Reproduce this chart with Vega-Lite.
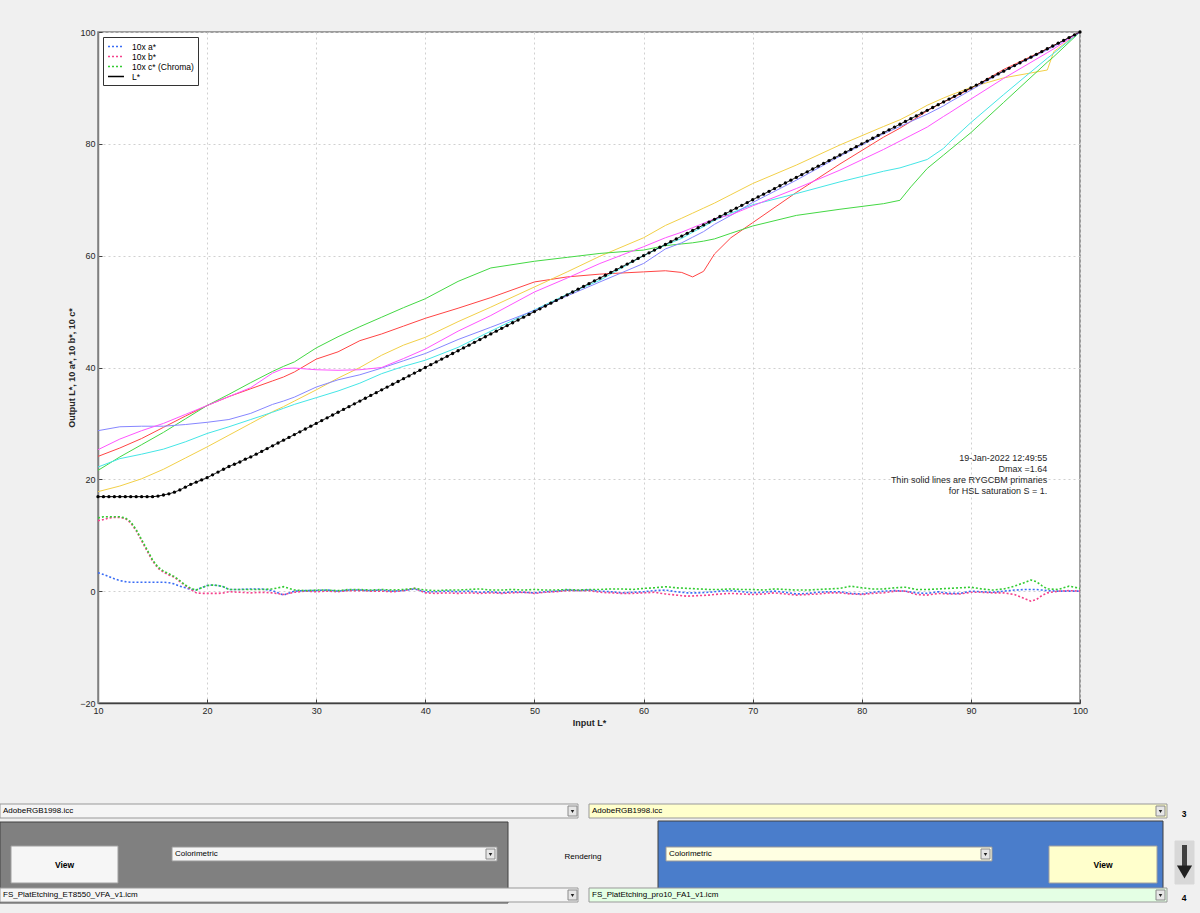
{
  "$schema": "https://vega.github.io/schema/vega-lite/v6.json",
  "width": 982,
  "height": 671,
  "autosize": {"type": "none"},
  "padding": {"left": 98, "top": 32, "right": 120, "bottom": 210},
  "background": "#f0f0f0",
  "config": {
    "font": "Liberation Sans",
    "view": {"fill": "white", "stroke": "#808080", "strokeWidth": 1.5},
    "legend": {
      "orient": "top-left", "offset": 5, "padding": 4,
      "strokeColor": "#333333", "fillColor": "white",
      "symbolType": "M-1,0L2.55,0", "symbolSize": 81, "symbolStrokeWidth": 1.5, "symbolFillColor": "transparent",
      "labelFont": "Liberation Sans", "labelFontSize": 8.5, "labelColor": "#000000",
      "labelOffset": 14, "rowPadding": 0, "labelLimit": 200
    }
  },
  "datasets": {
    "prim": [
      {"x":10,"R":24.1,"Y":17.8,"G":21.6,"C":22.2,"B":28.7,"M":25.3},
      {"x":12,"R":25.6,"Y":18.8,"G":24.0,"C":23.7,"B":29.4,"M":27.2},
      {"x":14,"R":27.3,"Y":20.1,"G":26.2,"C":24.5,"B":29.5,"M":28.7},
      {"x":16,"R":29.3,"Y":21.8,"G":28.4,"C":25.4,"B":29.5,"M":30.0},
      {"x":18,"R":31.3,"Y":23.8,"G":30.8,"C":26.7,"B":29.8,"M":31.6},
      {"x":20,"R":33.2,"Y":25.8,"G":33.2,"C":28.2,"B":30.2,"M":33.2},
      {"x":22,"R":34.8,"Y":27.9,"G":35.2,"C":29.4,"B":30.7,"M":34.8},
      {"x":24,"R":36.2,"Y":30.0,"G":37.3,"C":30.7,"B":31.8,"M":36.4},
      {"x":26,"R":37.6,"Y":32.1,"G":39.3,"C":32.0,"B":33.4,"M":39.0},
      {"x":27,"R":38.3,"Y":33.0,"G":40.2,"C":32.7,"B":34.0,"M":39.8},
      {"x":28,"R":39.2,"Y":34.0,"G":41.0,"C":33.4,"B":34.7,"M":39.9},
      {"x":30,"R":41.5,"Y":36.0,"G":43.5,"C":34.6,"B":36.5,"M":39.6},
      {"x":32,"R":42.8,"Y":38.1,"G":45.5,"C":35.8,"B":37.8,"M":39.5},
      {"x":34,"R":44.8,"Y":40.0,"G":47.3,"C":37.2,"B":38.7,"M":39.6},
      {"x":36,"R":46.0,"Y":42.2,"G":49.0,"C":38.9,"B":39.9,"M":40.0},
      {"x":38,"R":47.4,"Y":44.0,"G":50.7,"C":40.2,"B":41.2,"M":41.6},
      {"x":40,"R":48.8,"Y":45.4,"G":52.3,"C":41.3,"B":42.5,"M":43.3},
      {"x":43,"R":50.6,"Y":48.2,"G":55.4,"C":43.6,"B":45.0,"M":46.5},
      {"x":46,"R":52.5,"Y":50.8,"G":57.8,"C":46.5,"B":47.2,"M":49.3},
      {"x":50,"R":55.3,"Y":54.4,"G":59.0,"C":50.3,"B":50.2,"M":53.5},
      {"x":53,"R":56.2,"Y":57.1,"G":59.7,"C":53.1,"B":52.8,"M":56.0},
      {"x":56,"R":56.7,"Y":59.9,"G":60.4,"C":55.6,"B":55.3,"M":58.6},
      {"x":60,"R":57.1,"Y":63.2,"G":61.0,"C":60.0,"B":58.6,"M":61.6},
      {"x":62,"R":57.3,"Y":65.4,"G":61.8,"C":61.9,"B":61.2,"M":63.2},
      {"x":63.5,"R":57.0,"Y":66.7,"G":62.1,"C":63.1,"B":62.3,"M":64.2},
      {"x":64.5,"R":56.2,"Y":67.6,"G":62.3,"C":64.2,"B":63.3,"M":65.0},
      {"x":65.5,"R":57.2,"Y":68.5,"G":62.6,"C":65.2,"B":64.3,"M":65.8},
      {"x":66.5,"R":60.3,"Y":69.4,"G":63.0,"C":66.3,"B":65.6,"M":66.6},
      {"x":68,"R":63.2,"Y":70.9,"G":64.0,"C":67.6,"B":67.2,"M":67.3},
      {"x":70,"R":65.9,"Y":72.9,"G":65.3,"C":69.1,"B":69.5,"M":68.9},
      {"x":74,"R":71.3,"Y":76.2,"G":67.2,"C":71.1,"B":73.5,"M":72.0},
      {"x":78,"R":76.4,"Y":79.8,"G":68.3,"C":73.2,"B":77.8,"M":75.3},
      {"x":82,"R":81.2,"Y":83.1,"G":69.3,"C":75.1,"B":81.8,"M":79.0},
      {"x":83.5,"R":82.8,"Y":84.3,"G":69.9,"C":75.7,"B":83.1,"M":80.5},
      {"x":84.5,"R":84.0,"Y":85.3,"G":72.3,"C":76.3,"B":84.0,"M":81.5},
      {"x":86,"R":85.9,"Y":86.9,"G":75.6,"C":77.2,"B":85.3,"M":83.0},
      {"x":87.5,"R":87.5,"Y":88.2,"G":78.0,"C":79.2,"B":86.8,"M":84.9},
      {"x":88,"R":87.9,"Y":88.6,"G":78.8,"C":80.2,"B":87.4,"M":85.5},
      {"x":90,"R":89.9,"Y":90.1,"G":82.0,"C":83.8,"B":89.6,"M":88.0},
      {"x":93,"R":93.3,"Y":91.8,"G":87.4,"C":88.8,"B":93.0,"M":91.7},
      {"x":97,"R":97.0,"Y":93.2,"G":94.6,"C":95.3,"B":96.8,"M":96.3},
      {"x":97.6,"R":97.6,"Y":96.5,"G":95.6,"C":96.2,"B":97.4,"M":97.0},
      {"x":100,"R":100,"Y":100,"G":100,"C":100,"B":100,"M":100}
    ],
    "lab": [
      {"x":10,"a":3.3,"b":12.6,"c":13.1},{"x":10.5,"a":3.0,"b":12.8,"c":13.3},{"x":11,"a":2.6,"b":13.1,"c":13.3},{"x":11.5,"a":2.2,"b":13.2,"c":13.3},
      {"x":12,"a":1.9,"b":13.2,"c":13.3},{"x":12.5,"a":1.7,"b":13.0,"c":13.1},{"x":13,"a":1.6,"b":12.2,"c":12.4},{"x":13.5,"a":1.6,"b":10.8,"c":11.0},
      {"x":14,"a":1.6,"b":9.0,"c":9.2},{"x":14.5,"a":1.6,"b":7.2,"c":7.4},{"x":15,"a":1.6,"b":5.4,"c":5.6},{"x":15.5,"a":1.6,"b":4.1,"c":4.3},
      {"x":16,"a":1.6,"b":3.4,"c":3.6},{"x":16.5,"a":1.5,"b":2.9,"c":3.1},{"x":17,"a":1.3,"b":2.5,"c":2.6},{"x":17.5,"a":0.9,"b":1.7,"c":1.9},
      {"x":18,"a":0.6,"b":1.0,"c":1.1},{"x":18.5,"a":0.3,"b":0.3,"c":0.5},{"x":19,"a":0.2,"b":-0.3,"c":0.2},{"x":19.5,"a":0.6,"b":-0.4,"c":0.6},
      {"x":20,"a":1.0,"b":-0.4,"c":1.0},{"x":20.5,"a":1.1,"b":-0.4,"c":1.1},{"x":21,"a":1.0,"b":-0.4,"c":1.0},{"x":21.5,"a":0.8,"b":-0.3,"c":0.8},
      {"x":22,"a":0.3,"b":-0.1,"c":0.3},{"x":23,"a":0.3,"b":-0.2,"c":0.3},{"x":24,"a":0.4,"b":-0.3,"c":0.3},{"x":25,"a":0.4,"b":-0.2,"c":0.3},
      {"x":26,"a":0.1,"b":-0.3,"c":0.4},{"x":27,"a":-0.7,"b":-0.6,"c":0.8},{"x":28,"a":0.0,"b":-0.2,"c":0.2},{"x":29,"a":0.1,"b":0.0,"c":0.1},
      {"x":30,"a":0.1,"b":-0.1,"c":0.2},{"x":31,"a":0.2,"b":0.0,"c":0.2},{"x":32,"a":0.0,"b":-0.1,"c":0.1},{"x":33,"a":0.2,"b":0.1,"c":0.3},
      {"x":34,"a":0.2,"b":0.1,"c":0.3},{"x":35,"a":0.1,"b":0.0,"c":0.2},{"x":36,"a":0.2,"b":0.0,"c":0.3},{"x":37,"a":0.0,"b":-0.1,"c":0.2},
      {"x":38,"a":0.1,"b":0.1,"c":0.3},{"x":39,"a":0.4,"b":0.5,"c":0.5},{"x":40,"a":-0.1,"b":-0.3,"c":0.2},{"x":41,"a":-0.1,"b":-0.4,"c":0.1},
      {"x":42,"a":0.0,"b":-0.3,"c":0.2},{"x":43,"a":-0.1,"b":-0.4,"c":0.2},{"x":44,"a":0.0,"b":-0.3,"c":0.3},{"x":45,"a":-0.2,"b":-0.4,"c":0.4},
      {"x":46,"a":-0.1,"b":-0.3,"c":0.2},{"x":47,"a":-0.3,"b":-0.4,"c":0.2},{"x":48,"a":-0.1,"b":-0.3,"c":0.3},{"x":49,"a":-0.2,"b":-0.2,"c":0.2},
      {"x":50,"a":-0.3,"b":-0.4,"c":0.3},{"x":51,"a":-0.1,"b":-0.2,"c":0.2},{"x":52,"a":0.0,"b":-0.1,"c":0.2},{"x":53,"a":0.2,"b":0.1,"c":0.3},
      {"x":54,"a":0.1,"b":0.1,"c":0.2},{"x":55,"a":0.2,"b":0.1,"c":0.3},{"x":56,"a":0.0,"b":-0.2,"c":0.3},{"x":57,"a":-0.1,"b":-0.3,"c":0.4},
      {"x":58,"a":-0.3,"b":-0.4,"c":0.4},{"x":59,"a":-0.2,"b":-0.4,"c":0.3},{"x":60,"a":-0.1,"b":-0.3,"c":0.5},{"x":61,"a":0.1,"b":-0.2,"c":0.6},
      {"x":62,"a":0.2,"b":-0.5,"c":0.8},{"x":63,"a":-0.1,"b":-0.7,"c":0.6},{"x":64,"a":-0.3,"b":-0.9,"c":0.5},{"x":65,"a":-0.3,"b":-0.8,"c":0.4},
      {"x":66,"a":-0.2,"b":-0.7,"c":0.3},{"x":67,"a":0.0,"b":-0.5,"c":0.3},{"x":68,"a":0.1,"b":-0.4,"c":0.4},{"x":69,"a":-0.1,"b":-0.5,"c":0.3},
      {"x":70,"a":-0.3,"b":-0.6,"c":0.3},{"x":71,"a":-0.2,"b":-0.5,"c":0.2},{"x":72,"a":0.0,"b":-0.3,"c":0.4},{"x":73,"a":-0.2,"b":-0.5,"c":0.3},
      {"x":74,"a":-0.5,"b":-0.7,"c":0.2},{"x":75,"a":-0.4,"b":-0.6,"c":0.2},{"x":76,"a":-0.2,"b":-0.5,"c":0.3},{"x":77,"a":-0.1,"b":-0.3,"c":0.4},
      {"x":78,"a":-0.1,"b":-0.3,"c":0.5},{"x":79,"a":-0.4,"b":-0.5,"c":0.9},{"x":80,"a":-0.5,"b":-0.6,"c":0.6},{"x":81,"a":-0.2,"b":-0.4,"c":0.4},
      {"x":82,"a":0.0,"b":-0.3,"c":0.4},{"x":83,"a":0.1,"b":0.0,"c":0.6},{"x":84,"a":0.0,"b":0.0,"c":0.7},{"x":85,"a":-0.3,"b":-0.6,"c":0.3},
      {"x":86,"a":-0.4,"b":-0.7,"c":0.3},{"x":87,"a":-0.1,"b":-0.4,"c":0.4},{"x":88,"a":-0.4,"b":-0.5,"c":0.5},{"x":89,"a":-0.4,"b":-0.5,"c":0.6},
      {"x":90,"a":0.0,"b":-0.2,"c":0.7},{"x":91,"a":-0.1,"b":-0.2,"c":0.4},{"x":92,"a":-0.2,"b":-0.3,"c":0.2},{"x":93,"a":0.0,"b":-0.3,"c":0.4},
      {"x":94,"a":0.2,"b":-0.6,"c":0.9},{"x":95,"a":0.3,"b":-1.4,"c":1.6},{"x":95.5,"a":0.3,"b":-1.8,"c":2.0},{"x":96,"a":0.3,"b":-1.5,"c":1.7},
      {"x":96.5,"a":0.2,"b":-0.8,"c":1.0},{"x":97,"a":0.1,"b":-0.3,"c":0.4},{"x":98,"a":0.0,"b":0.0,"c":0.3},{"x":99,"a":0.0,"b":0.1,"c":0.9},
      {"x":100,"a":0.0,"b":0.0,"c":0.5}
    ],
    "lum": [
      {"x":10,"L":16.9},{"x":10.5,"L":16.9},{"x":11,"L":16.9},{"x":11.5,"L":16.9},{"x":12,"L":16.9},{"x":12.5,"L":16.9},{"x":13,"L":16.9},{"x":13.5,"L":16.9},
      {"x":14,"L":16.9},{"x":14.5,"L":16.9},{"x":15,"L":16.9},{"x":15.5,"L":17.0},{"x":16,"L":17.2},{"x":16.5,"L":17.4},{"x":17,"L":17.7},{"x":17.5,"L":18.1},
      {"x":18,"L":18.6},{"x":18.5,"L":19.1},{"x":19,"L":19.5},{"x":19.5,"L":19.9},{"x":20,"L":20.3},{"x":20.5,"L":20.8},{"x":21,"L":21.3},{"x":21.5,"L":21.8},
      {"x":22,"L":22.3},{"x":22.5,"L":22.7},{"x":23,"L":23.1},{"x":23.5,"L":23.6},{"x":24,"L":24},{"x":24.5,"L":24.5},{"x":25,"L":25},{"x":25.5,"L":25.5},
      {"x":26,"L":26},{"x":26.5,"L":26.5},{"x":27,"L":27},{"x":27.5,"L":27.5},{"x":28,"L":28},{"x":28.5,"L":28.5},{"x":29,"L":29},{"x":29.5,"L":29.5},
      {"x":30,"L":30},{"x":30.5,"L":30.5},{"x":31,"L":31},{"x":31.5,"L":31.5},{"x":32,"L":32},{"x":32.5,"L":32.5},{"x":33,"L":33},{"x":33.5,"L":33.5},
      {"x":34,"L":34},{"x":34.5,"L":34.5},{"x":35,"L":35},{"x":35.5,"L":35.5},{"x":36,"L":36},{"x":36.5,"L":36.5},{"x":37,"L":37},{"x":37.5,"L":37.5},
      {"x":38,"L":38},{"x":38.5,"L":38.5},{"x":39,"L":39},{"x":39.5,"L":39.5},{"x":40,"L":40},{"x":40.5,"L":40.5},{"x":41,"L":41},{"x":41.5,"L":41.5},
      {"x":42,"L":42},{"x":42.5,"L":42.5},{"x":43,"L":43},{"x":43.5,"L":43.5},{"x":44,"L":44},{"x":44.5,"L":44.5},{"x":45,"L":45},{"x":45.5,"L":45.5},
      {"x":46,"L":46},{"x":46.5,"L":46.5},{"x":47,"L":47},{"x":47.5,"L":47.5},{"x":48,"L":48},{"x":48.5,"L":48.5},{"x":49,"L":49},{"x":49.5,"L":49.5},
      {"x":50,"L":50},{"x":50.5,"L":50.5},{"x":51,"L":51},{"x":51.5,"L":51.5},{"x":52,"L":52},{"x":52.5,"L":52.5},{"x":53,"L":53},{"x":53.5,"L":53.5},
      {"x":54,"L":54},{"x":54.5,"L":54.5},{"x":55,"L":55},{"x":55.5,"L":55.5},{"x":56,"L":56},{"x":56.5,"L":56.5},{"x":57,"L":57},{"x":57.5,"L":57.5},
      {"x":58,"L":58},{"x":58.5,"L":58.5},{"x":59,"L":59},{"x":59.5,"L":59.5},{"x":60,"L":60},{"x":60.5,"L":60.5},{"x":61,"L":61},{"x":61.5,"L":61.5},
      {"x":62,"L":62},{"x":62.5,"L":62.5},{"x":63,"L":63},{"x":63.5,"L":63.5},{"x":64,"L":64},{"x":64.5,"L":64.5},{"x":65,"L":65},{"x":65.5,"L":65.5},
      {"x":66,"L":66},{"x":66.5,"L":66.5},{"x":67,"L":67},{"x":67.5,"L":67.5},{"x":68,"L":68},{"x":68.5,"L":68.5},{"x":69,"L":69},{"x":69.5,"L":69.5},
      {"x":70,"L":70},{"x":70.5,"L":70.5},{"x":71,"L":71},{"x":71.5,"L":71.5},{"x":72,"L":72},{"x":72.5,"L":72.5},{"x":73,"L":73},{"x":73.5,"L":73.5},
      {"x":74,"L":74},{"x":74.5,"L":74.5},{"x":75,"L":75},{"x":75.5,"L":75.5},{"x":76,"L":76},{"x":76.5,"L":76.5},{"x":77,"L":77},{"x":77.5,"L":77.5},
      {"x":78,"L":78},{"x":78.5,"L":78.5},{"x":79,"L":79},{"x":79.5,"L":79.5},{"x":80,"L":80},{"x":80.5,"L":80.5},{"x":81,"L":81},{"x":81.5,"L":81.5},
      {"x":82,"L":82},{"x":82.5,"L":82.5},{"x":83,"L":83},{"x":83.5,"L":83.5},{"x":84,"L":84},{"x":84.5,"L":84.5},{"x":85,"L":85},{"x":85.5,"L":85.5},
      {"x":86,"L":86},{"x":86.5,"L":86.5},{"x":87,"L":87},{"x":87.5,"L":87.5},{"x":88,"L":88},{"x":88.5,"L":88.5},{"x":89,"L":89},{"x":89.5,"L":89.5},
      {"x":90,"L":90},{"x":90.5,"L":90.5},{"x":91,"L":91},{"x":91.5,"L":91.5},{"x":92,"L":92},{"x":92.5,"L":92.5},{"x":93,"L":93},{"x":93.5,"L":93.5},
      {"x":94,"L":94},{"x":94.5,"L":94.5},{"x":95,"L":95},{"x":95.5,"L":95.5},{"x":96,"L":96},{"x":96.5,"L":96.5},{"x":97,"L":97},{"x":97.5,"L":97.5},
      {"x":98,"L":98},{"x":98.5,"L":98.5},{"x":99,"L":99},{"x":99.5,"L":99.5},{"x":100,"L":100}
    ],
    "ui": [
      {"x":0,"x2":508,"y":822,"y2":903,"k":"pg"},
      {"x":658,"x2":1163,"y":821,"y2":889,"k":"pb"},
      {"x":0,"x2":578,"y":804,"y2":818,"k":"cw"},
      {"x":589,"x2":1167,"y":804,"y2":818,"k":"cy"},
      {"x":0,"x2":578,"y":888,"y2":902,"k":"cw"},
      {"x":589,"x2":1167,"y":888,"y2":902,"k":"cg"},
      {"x":172,"x2":497,"y":847,"y2":861,"k":"cw"},
      {"x":666,"x2":992,"y":847,"y2":861,"k":"cl"},
      {"x":11,"x2":118,"y":846,"y2":883,"k":"bw"},
      {"x":1049,"x2":1157,"y":846,"y2":883,"k":"by"},
      {"x":1175,"x2":1194,"y":841,"y2":884,"k":"ab"},
      {"x":568,"x2":577,"y":806,"y2":816,"k":"db"},
      {"x":1156,"x2":1165,"y":806,"y2":816,"k":"db"},
      {"x":568,"x2":577,"y":890,"y2":900,"k":"db"},
      {"x":1156,"x2":1165,"y":890,"y2":900,"k":"db"},
      {"x":486,"x2":495,"y":849,"y2":859,"k":"db"},
      {"x":981,"x2":990,"y":849,"y2":859,"k":"db"}
    ],
    "tri": [
      {"x":572.5,"y":811.5,"k":"s"},{"x":1160.5,"y":811.5,"k":"s"},{"x":572.5,"y":895.5,"k":"s"},
      {"x":1160.5,"y":895.5,"k":"s"},{"x":490.5,"y":854.5,"k":"s"},{"x":985.5,"y":854.5,"k":"s"},
      {"x":1184.5,"y":872,"k":"L"}
    ],
    "uitext": [
      {"x":3,"y":811,"t":"AdobeRGB1998.icc","a":"l"},
      {"x":592,"y":811,"t":"AdobeRGB1998.icc","a":"l"},
      {"x":175,"y":854,"t":"Colorimetric","a":"l"},
      {"x":669,"y":854,"t":"Colorimetric","a":"l"},
      {"x":3,"y":895,"t":"FS_PlatEtching_ET8550_VFA_v1.icm","a":"l"},
      {"x":592,"y":895,"t":"FS_PlatEtching_pro10_FA1_v1.icm","a":"l"},
      {"x":583,"y":857,"t":"Rendering","a":"c"},
      {"x":64.5,"y":865,"t":"View","a":"b"},
      {"x":1103,"y":865,"t":"View","a":"b"},
      {"x":1184,"y":814,"t":"3","a":"b"},
      {"x":1184,"y":898,"t":"4","a":"b"}
    ]
  },
  "layer": [
    {
      "layer": [
        {
          "data": {"name": "prim"},
          "transform": [{"fold": ["R","Y","G","C","B","M"], "as": ["p","v"]}],
          "mark": {"type": "line", "strokeWidth": 1},
          "encoding": {
            "x": {"field": "x", "type": "quantitative", "title": "Input L*",
                  "scale": {"domain": [10,100], "nice": false, "zero": false},
                  "axis": {"values": [10,20,30,40,50,60,70,80,90,100], "format": "d", "grid": true,
                           "gridColor": "#d0d0d0", "gridDash": [2,3], "tickSize": -4, "tickColor": "#404040",
                           "domainColor": "#404040", "domainWidth": 1.5, "labelPadding": 7, "labelFontSize": 9,
                           "labelColor": "#262626", "labelFont": "Liberation Sans", "labelFlush": false,
                           "titleFont": "Liberation Sans", "titleFontSize": 9, "titleFontWeight": "bold",
                           "titleColor": "#262626", "titlePadding": 3}},
            "y": {"field": "v", "type": "quantitative", "title": "Output L*, 10 a*, 10 b*, 10 c*",
                  "scale": {"domain": [-20,100], "nice": false, "zero": false},
                  "axis": {"values": [-20,0,20,40,60,80,100], "format": "d", "grid": true,
                           "gridColor": "#d0d0d0", "gridDash": [2,3], "tickSize": -4, "tickColor": "#404040",
                           "domainColor": "#808080", "domainWidth": 1.5, "labelPadding": 7, "labelFontSize": 9,
                           "labelColor": "#262626", "labelFont": "Liberation Sans", "labelFlush": false,
                           "titleFont": "Liberation Sans", "titleFontSize": 9, "titleFontWeight": "bold",
                           "titleColor": "#262626", "titlePadding": 3}},
            "stroke": {"field": "p", "type": "nominal", "legend": null,
                       "scale": {"domain": ["R","Y","G","C","B","M"],
                                 "range": ["#ff4444","#f2d048","#44d844","#44e6e6","#8686ff","#ff55ff"]}}
          }
        },
        {
          "data": {"name": "lab"},
          "transform": [{"fold": ["a","b","c"], "as": ["s","v"]}],
          "mark": {"type": "line", "strokeWidth": 1.6},
          "encoding": {
            "x": {"field": "x", "type": "quantitative", "title": "Input L*"},
            "y": {"field": "v", "type": "quantitative", "title": "Output L*, 10 a*, 10 b*, 10 c*"},
            "color": {"field": "s", "type": "nominal",
                      "scale": {"domain": ["a","b","c","L"], "range": ["#3a6df5","#f5428c","#33cc33","#000000"]},
                      "legend": {"title": null,
                                 "labelExpr": "datum.label == 'a' ? '10x a*' : datum.label == 'b' ? '10x b*' : datum.label == 'c' ? '10x c* (Chroma)' : 'L*'",
                                 "encode": {"symbols": {"update": {"strokeDash": {"signal": "datum.value == 'L' ? [1, 0] : [2, 2]"}}}}}},
            "strokeDash": {"field": "s", "type": "nominal", "legend": null,
                      "scale": {"domain": ["a","b","c","L"], "range": [[2,2],[2,2],[2,2],[1,0]]}}
          }
        },
        {
          "data": {"name": "lum"},
          "mark": {"type": "line", "strokeWidth": 1},
          "encoding": {
            "x": {"field": "x", "type": "quantitative", "title": "Input L*"},
            "y": {"field": "L", "type": "quantitative", "title": "Output L*, 10 a*, 10 b*, 10 c*"},
            "color": {"datum": "L"},
            "strokeDash": {"datum": "L"}
          }
        },
        {
          "data": {"name": "lum"},
          "mark": {"type": "point", "filled": true, "size": 11, "opacity": 1, "color": "#000000"},
          "encoding": {
            "x": {"field": "x", "type": "quantitative", "title": "Input L*"},
            "y": {"field": "L", "type": "quantitative", "title": "Output L*, 10 a*, 10 b*, 10 c*"}
          }
        },
        {
          "data": {"values": [{}]},
          "mark": {"type": "text", "align": "right", "baseline": "top", "font": "Liberation Sans", "fontSize": 9,
                   "lineHeight": 11, "color": "#262626",
                   "text": ["19-Jan-2022 12:49:55", "Dmax =1.64", "Thin solid lines are RYGCBM primaries", "for HSL saturation S = 1."]},
          "encoding": {
            "x": {"datum": 97, "type": "quantitative"},
            "y": {"datum": 24.5, "type": "quantitative"}
          }
        }
      ]
    },
    {
      "layer": [
        {
          "data": {"name": "ui"},
          "mark": {"type": "rect", "strokeWidth": 1},
          "encoding": {
            "x": {"field": "x", "type": "quantitative", "axis": null, "scale": {"domain": [98,1080], "nice": false, "zero": false}},
            "x2": {"field": "x2"},
            "y": {"field": "y", "type": "quantitative", "axis": null, "scale": {"domain": [32,703], "nice": false, "zero": false, "reverse": true}},
            "y2": {"field": "y2"},
            "fill": {"field": "k", "type": "nominal", "legend": null,
                     "scale": {"domain": ["pg","pb","cw","cy","cg","cl","bw","by","ab","db"],
                               "range": ["#808080","#4a7dcb","#f5f5f5","#ffffcc","#e4ffe4","#ffffe2","#f6f6f6","#ffffcc","#d8d8d8","#e6e6e6"]}},
            "stroke": {"field": "k", "type": "nominal", "legend": null,
                     "scale": {"domain": ["pg","pb","cw","cy","cg","cl","bw","by","ab","db"],
                               "range": ["#404040","#404040","#999999","#999999","#999999","#999999","#a0a0a0","#a0a0a0","#d8d8d8","#8a8a8a"]}}
          }
        },
        {
          "data": {"values": [{"x":1184.5,"y":845,"y2":867}]},
          "mark": {"type": "rule", "strokeWidth": 5, "color": "#404040"},
          "encoding": {
            "x": {"field": "x", "type": "quantitative", "axis": null, "scale": {"domain": [98,1080], "nice": false, "zero": false}},
            "y": {"field": "y", "type": "quantitative", "axis": null, "scale": {"domain": [32,703], "nice": false, "zero": false, "reverse": true}},
            "y2": {"field": "y2"}
          }
        },
        {
          "data": {"name": "tri"},
          "mark": {"type": "point", "shape": "triangle-down", "filled": true, "opacity": 1, "color": "#202020"},
          "encoding": {
            "x": {"field": "x", "type": "quantitative", "axis": null, "scale": {"domain": [98,1080], "nice": false, "zero": false}},
            "y": {"field": "y", "type": "quantitative", "axis": null, "scale": {"domain": [32,703], "nice": false, "zero": false, "reverse": true}},
            "size": {"field": "k", "type": "nominal", "legend": null, "scale": {"domain": ["s","L"], "range": [12, 230]}}
          }
        },
        {
          "data": {"name": "uitext"},
          "transform": [{"filter": "datum.a == 'l'"}],
          "mark": {"type": "text", "align": "left", "baseline": "middle", "font": "Liberation Sans", "fontSize": 8, "color": "#000000"},
          "encoding": {
            "x": {"field": "x", "type": "quantitative", "axis": null, "scale": {"domain": [98,1080], "nice": false, "zero": false}},
            "y": {"field": "y", "type": "quantitative", "axis": null, "scale": {"domain": [32,703], "nice": false, "zero": false, "reverse": true}},
            "text": {"field": "t"}
          }
        },
        {
          "data": {"name": "uitext"},
          "transform": [{"filter": "datum.a == 'c'"}],
          "mark": {"type": "text", "align": "center", "baseline": "middle", "font": "Liberation Sans", "fontSize": 8, "color": "#000000"},
          "encoding": {
            "x": {"field": "x", "type": "quantitative", "axis": null, "scale": {"domain": [98,1080], "nice": false, "zero": false}},
            "y": {"field": "y", "type": "quantitative", "axis": null, "scale": {"domain": [32,703], "nice": false, "zero": false, "reverse": true}},
            "text": {"field": "t"}
          }
        },
        {
          "data": {"name": "uitext"},
          "transform": [{"filter": "datum.a == 'b'"}],
          "mark": {"type": "text", "align": "center", "baseline": "middle", "font": "Liberation Sans", "fontSize": 8.5, "fontWeight": "bold", "color": "#000000"},
          "encoding": {
            "x": {"field": "x", "type": "quantitative", "axis": null, "scale": {"domain": [98,1080], "nice": false, "zero": false}},
            "y": {"field": "y", "type": "quantitative", "axis": null, "scale": {"domain": [32,703], "nice": false, "zero": false, "reverse": true}},
            "text": {"field": "t"}
          }
        }
      ]
    }
  ],
  "resolve": {"scale": {"x": "independent", "y": "independent", "color": "independent", "stroke": "independent", "fill": "independent", "size": "independent"}}
}
